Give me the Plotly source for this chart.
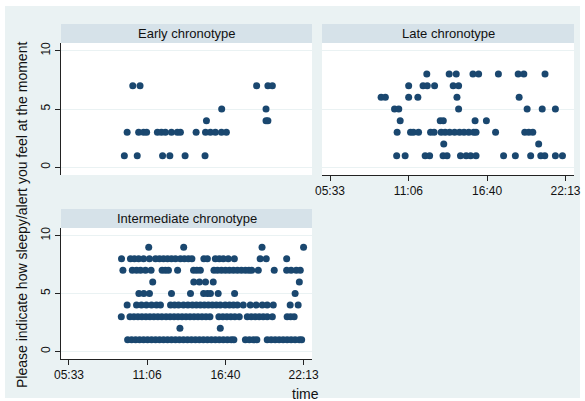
import plotly.graph_objects as go

W, H = 585, 401

# ---------------- data ----------------
tick_minutes = [333, 666, 1000, 1333]
tick_labels = ["05:33", "11:06", "16:40", "22:13"]
y_ticks = [0, 5, 10]
panel_titles = ["Early chronotype", "Late chronotype", "Intermediate chronotype"]
y_title = "Please indicate how sleepy/alert you feel at the moment"
x_title = "time"

early_scores = [7, 5, 4, 3, 1]
early_times = [
    ["10:05", "10:36", "18:53", "19:41", "20:00"],
    ["16:24", "19:33"],
    ["15:19", "19:33", "19:41"],
    ["09:41", "10:30", "10:51", "11:04", "11:50", "12:07", "12:24", "12:50",
     "13:15", "13:28", "14:35", "15:15", "15:36", "15:57", "16:23", "16:44"],
    ["09:29", "10:24", "12:12", "12:43", "13:48", "15:13"],
]

late_scores = [8, 7, 6, 5, 4, 3, 2, 1]
late_times = [
    ["12:24", "13:59", "14:29", "15:40", "16:04", "17:28", "18:52", "19:16", "20:46"],
    ["11:07", "12:08", "12:26", "12:57", "14:16", "14:39"],
    ["09:10", "09:28", "11:07", "11:46", "14:32", "18:56"],
    ["10:07", "10:25", "14:39", "19:30", "20:34", "21:30"],
    ["10:31", "13:21", "13:34", "15:49", "16:37"],
    ["10:18", "11:15", "11:27", "11:49", "12:40", "12:55", "13:25", "13:42", "14:01",
     "14:22", "14:43", "15:02", "15:22", "15:43", "15:53", "17:16", "19:20", "19:37", "19:54"],
    ["13:36", "20:19"],
    ["10:16", "10:52", "12:17", "12:36", "13:33", "13:50", "14:47", "15:11", "15:30",
     "15:53", "17:50", "18:40", "19:45", "20:28", "20:45", "21:30", "22:00"],
]

inter_scores = [9, 8, 7, 6, 5, 4, 3, 2, 1]
inter_times = [
    ["11:13", "13:42", "19:16", "22:13"],
    ["09:17", "09:55", "10:12", "10:30", "10:51", "11:16", "11:42", "11:59", "12:16",
     "12:33", "12:50", "13:07", "13:28", "13:45", "14:02", "14:17", "15:08", "15:23",
     "15:57", "16:14", "16:31", "16:52", "17:18", "19:08", "19:34", "21:01"],
    ["09:23", "10:03", "10:21", "10:38", "10:59", "11:23", "12:10", "12:24", "12:37",
     "13:16", "14:24", "14:38", "14:53", "15:51", "16:06", "16:23", "16:40", "16:57",
     "17:14", "17:31", "17:48", "18:05", "18:20", "18:32", "19:00", "20:08", "21:01",
     "21:20", "21:42", "21:59"],
    ["11:30", "14:25", "14:49", "15:15", "15:48", "21:55"],
    ["10:31", "10:52", "11:16", "12:50", "14:11", "15:07", "15:23", "15:36", "16:09",
     "17:19", "21:37"],
    ["09:41", "10:21", "10:42", "11:03", "11:25", "11:46", "12:03", "12:46", "13:03",
     "13:20", "13:41", "14:00", "14:19", "14:36", "14:53", "15:10", "15:27", "15:44",
     "16:01", "16:18", "16:39", "16:57", "17:14", "17:31", "17:56", "18:26", "18:51",
     "19:17", "19:38", "20:04", "21:16", "21:50"],
    ["09:16", "09:53", "10:10", "10:27", "10:44", "11:01", "11:18", "11:35", "11:52",
     "12:09", "12:27", "12:44", "13:01", "13:18", "13:35", "13:52", "14:09", "14:26",
     "14:43", "15:00", "15:17", "15:34", "16:12", "16:29", "16:46", "17:03", "17:20",
     "17:39", "18:13", "18:30", "18:47", "19:04", "19:21", "19:38", "20:00", "21:03",
     "21:18", "21:33"],
    ["13:26", "16:18"],
    ["09:43", "10:00", "10:17", "10:34", "10:51", "11:08", "11:25", "11:42", "11:59",
     "12:16", "12:33", "12:50", "13:07", "13:24", "13:41", "13:58", "14:15", "14:32",
     "14:49", "15:06", "15:23", "15:40", "15:57", "16:14", "16:31", "16:48", "17:05",
     "17:16", "18:05", "18:22", "18:39", "18:54", "19:38", "19:55", "20:12", "20:29",
     "20:46", "21:03", "21:20", "21:37", "21:55", "22:05"],
]


def to_min(t):
    h, m = t.split(":")
    return int(h) * 60 + int(m)


def flatten(scores, times):
    xs, ys = [], []
    for s, ts in zip(scores, times):
        for t in ts:
            xs.append(to_min(t))
            ys.append(s)
    return xs, ys


# ---------------- styling ----------------
BG = "#eaf2f3"
STRIP = "#d6e2e9"
NAVY = "#1a476f"
GRID = "#eaf2f3"
AXIS = "#222222"
FONT = "Liberation Sans, Arial, sans-serif"


def px_x(p):
    return p / W


def px_y(p):
    return 1 - p / H


# panel pixel boxes: (x0, x1, ytop, ybottom)
panels = {
    "early": (61, 312, 43, 175),
    "late": (322, 574, 43, 175),
    "inter": (61, 312, 228, 359),
}
STRIP_H = 19

fig = go.Figure()

data_sets = [
    ("early", early_scores, early_times, "x", "y"),
    ("late", late_scores, late_times, "x2", "y2"),
    ("inter", inter_scores, inter_times, "x3", "y3"),
]
for name, sc, tm, xa, ya in data_sets:
    xs, ys = flatten(sc, tm)
    fig.add_trace(go.Scatter(
        x=xs, y=ys, mode="markers", xaxis=xa, yaxis=ya,
        marker=dict(color=NAVY, size=7, line=dict(width=0)),
        showlegend=False, hoverinfo="skip",
    ))

XR = [299, 1369]
YR = [-0.66, 10.66]


def xaxis_cfg(box, anchor, show):
    x0, x1, yt, yb = box
    d = dict(domain=[px_x(x0), px_x(x1)], range=XR, anchor=anchor,
             tickvals=tick_minutes, ticktext=tick_labels, automargin=False,
             showgrid=False, zeroline=False, fixedrange=True,
             tickfont=dict(family=FONT, size=12, color="#111"))
    if show:
        d.update(showline=True, linecolor=AXIS, linewidth=1, ticks="outside",
                 ticklen=5, tickcolor=AXIS, showticklabels=True)
    else:
        d.update(showline=False, ticks="", showticklabels=False)
    return d


def yaxis_cfg(box, anchor, show):
    x0, x1, yt, yb = box
    d = dict(domain=[px_y(yb), px_y(yt)], range=YR, anchor=anchor,
             tickvals=y_ticks, ticktext=[str(v) for v in y_ticks], automargin=False,
             showgrid=True, gridcolor=GRID, gridwidth=1, zeroline=False,
             fixedrange=True,
             tickfont=dict(family=FONT, size=12, color="#111"))
    if show:
        d.update(showline=True, linecolor=AXIS, linewidth=1, ticks="outside",
                 ticklen=5, tickcolor=AXIS, showticklabels=True, tickangle=-90)
    else:
        d.update(showline=False, ticks="", showticklabels=False)
    return d


shapes = [
    dict(type="rect", xref="paper", yref="paper", layer="below",
         x0=px_x(5), x1=px_x(580), y0=px_y(398), y1=px_y(6),
         fillcolor=BG, line=dict(width=0)),
]
annotations = []
for (name, box), title in zip(panels.items(), panel_titles):
    x0, x1, yt, yb = box
    shapes.append(dict(type="rect", xref="paper", yref="paper", layer="below",
                       x0=px_x(x0), x1=px_x(x1), y0=px_y(yb), y1=px_y(yt),
                       fillcolor="white", line=dict(width=0)))
    shapes.append(dict(type="rect", xref="paper", yref="paper", layer="below",
                       x0=px_x(x0), x1=px_x(x1), y0=px_y(yt), y1=px_y(yt - STRIP_H),
                       fillcolor=STRIP, line=dict(width=0)))
    annotations.append(dict(text=title, xref="paper", yref="paper",
                            x=px_x((x0 + x1) / 2), y=px_y(yt - STRIP_H / 2),
                            showarrow=False, xanchor="center", yanchor="middle",
                            font=dict(family=FONT, size=13, color="#111")))

annotations.append(dict(text=y_title, xref="paper", yref="paper",
                        x=px_x(22), y=px_y(215), textangle=-90, showarrow=False,
                        xanchor="center", yanchor="middle",
                        font=dict(family=FONT, size=14, color="#111")))
annotations.append(dict(text=x_title, xref="paper", yref="paper",
                        x=px_x(305), y=px_y(394), showarrow=False,
                        xanchor="center", yanchor="middle",
                        font=dict(family=FONT, size=14, color="#111")))

fig.update_layout(
    template="none",
    width=W, height=H,
    margin=dict(l=0, r=0, t=0, b=0, pad=0),
    paper_bgcolor="white",
    plot_bgcolor="rgba(0,0,0,0)",
    xaxis=xaxis_cfg(panels["early"], "y", False),
    yaxis=yaxis_cfg(panels["early"], "x", True),
    xaxis2=xaxis_cfg(panels["late"], "y2", True),
    yaxis2=yaxis_cfg(panels["late"], "x2", False),
    xaxis3=xaxis_cfg(panels["inter"], "y3", True),
    yaxis3=yaxis_cfg(panels["inter"], "x3", True),
    shapes=shapes,
    annotations=annotations,
    showlegend=False,
)

fig.write_html(
    "out.html",
    config={"displayModeBar": False},
    post_script="document.body.style.margin='0';document.body.style.overflow='hidden';",
)
